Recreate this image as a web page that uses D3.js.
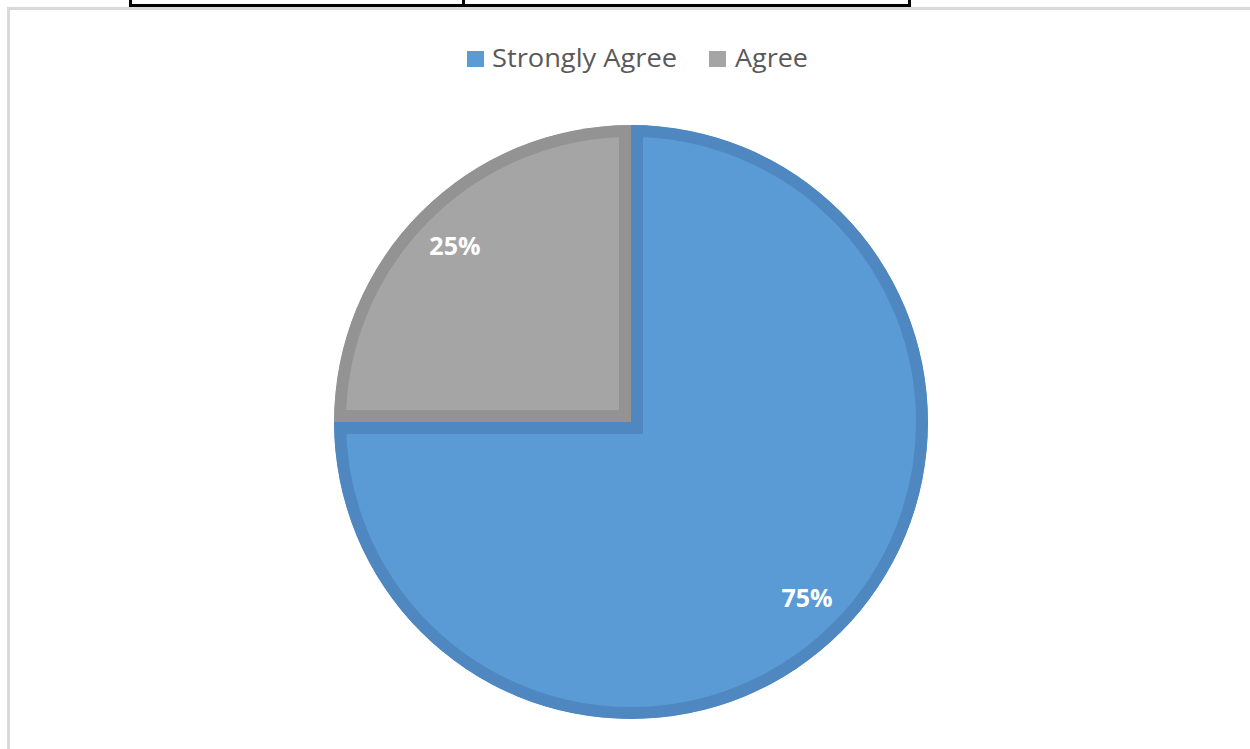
<!DOCTYPE html>
<html>
<head>
<meta charset="utf-8">
<script src="https://cdn.jsdelivr.net/npm/d3@7"></script>
<style>
  html, body { margin: 0; padding: 0; background: #fff; }
  svg { display: block; }
</style>
</head>
<body>
<svg id="chart" width="1250" height="749"></svg>
<script>
// ── Data ──────────────────────────────────────────────────────────────────────
const categories = ['Strongly Agree', 'Agree'];
const values     = [75, 25];
const labels     = ['75%', '25%'];

const fills   = ['#5B9BD5', '#A5A5A5'];
const borders = ['#4F88C0', '#939393'];

// ── Setup ─────────────────────────────────────────────────────────────────────
const W = 1250, H = 749;
const svg = d3.select('#chart');

// fragment of the table above the chart
const tbl = svg.append('g').attr('fill', 'none').attr('stroke', '#000').attr('stroke-width', 3);
tbl.append('path').attr('d', 'M130.5,0 V5.5 H909.5 V0');
tbl.append('path').attr('d', 'M463.5,0 V5.5');

// chart area frame (light grey, open on right/bottom)
svg.append('path')
  .attr('d', `M8.5,${H} V8.5 H${W}`)
  .attr('fill', 'none')
  .attr('stroke', '#D9D9D9')
  .attr('stroke-width', 3);

// ── Pie ───────────────────────────────────────────────────────────────────────
const cx = 631, cy = 422, R = 297;
const pie = d3.pie().sort(null).value(d => d)(values);
const arc = d3.arc().innerRadius(0).outerRadius(R);
const labelArc = d3.arc().innerRadius(249).outerRadius(249);

const g = svg.append('g').attr('transform', `translate(${cx},${cy})`);
const defs = svg.append('defs');

// each slice's border sits inside the slice, so clip a double-width stroke
pie.forEach((p, i) => {
  defs.append('clipPath').attr('id', `clip${i}`)
    .append('path').attr('d', arc(p));
});

g.selectAll('path.slice')
  .data(pie)
  .enter().append('path')
    .attr('class', 'slice')
    .attr('d', arc)
    .attr('fill', (d, i) => fills[i])
    .attr('stroke', (d, i) => borders[i])
    .attr('stroke-width', 24)
    .attr('stroke-linejoin', 'miter')
    .attr('clip-path', (d, i) => `url(#clip${i})`);

g.selectAll('text.lbl')
  .data(pie)
  .enter().append('text')
    .attr('class', 'lbl')
    .attr('transform', d => `translate(${labelArc.centroid(d)})`)
    .attr('text-anchor', 'middle')
    .attr('dy', '0.36em')
    .attr('font-family', '"Open Sans", sans-serif')
    .attr('font-weight', 'bold')
    .attr('font-size', 25)
    .attr('fill', '#fff')
    .text((d, i) => labels[i]);

// ── Legend ────────────────────────────────────────────────────────────────────
const legendItems = [
  { sx: 467, tx: 492, tw: 185 },
  { sx: 709, tx: 735, tw: 73 }
];
const lg = svg.append('g');
categories.forEach((c, i) => {
  lg.append('rect')
    .attr('x', legendItems[i].sx).attr('y', 51)
    .attr('width', 17).attr('height', 16)
    .attr('fill', fills[i]);
  lg.append('text')
    .attr('x', legendItems[i].tx).attr('y', 67)
    .attr('font-family', '"Open Sans", sans-serif')
    .attr('font-size', 25)
    .attr('fill', '#595959')
    .attr('textLength', legendItems[i].tw)
    .attr('lengthAdjust', 'spacingAndGlyphs')
    .text(c);
});
</script>
</body>
</html>
